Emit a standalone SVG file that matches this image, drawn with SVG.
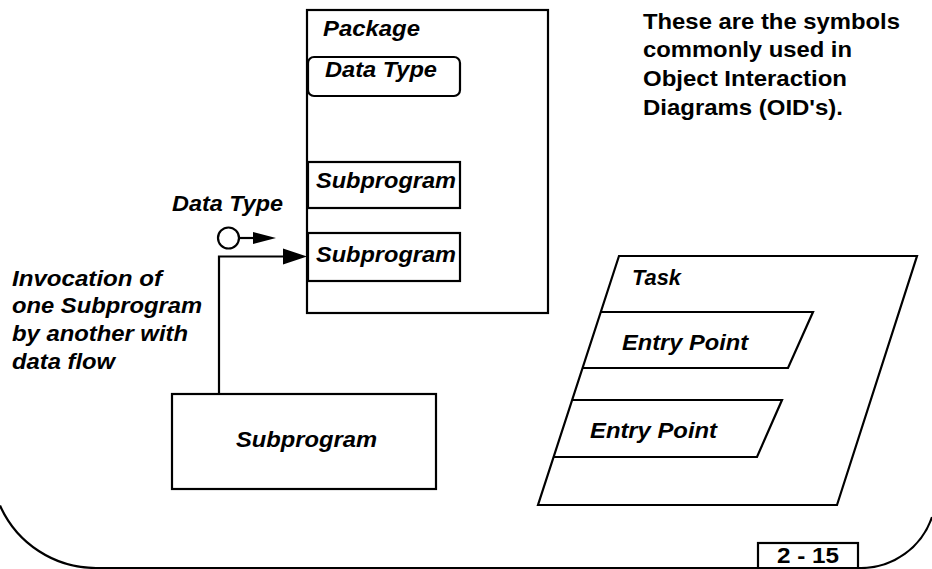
<svg xmlns="http://www.w3.org/2000/svg" width="932" height="569" viewBox="0 0 932 569">
<style>
.s{fill:none;stroke:#000;stroke-width:2.2}
.bi{font-family:"Liberation Sans",Arial,sans-serif;font-weight:bold;font-style:italic;font-size:22px;fill:#000}
.b{font-family:"Liberation Sans",Arial,sans-serif;font-weight:bold;font-size:22px;fill:#000}
</style>
<rect width="932" height="569" fill="#fff"/>
<g id="frame">
<path class="s" d="M0,505.5 A105,105 0 0 0 96,568 H861 A75,75 0 0 0 932,517"/>
</g>
<g id="package">
<rect class="s" x="307" y="10" width="241" height="303"/>
<text class="bi" x="323" y="36" textLength="97" lengthAdjust="spacingAndGlyphs">Package</text>
</g>
<g id="datatype-inner">
<rect class="s" x="308" y="57" width="152" height="39" rx="6"/>
<text class="bi" x="325" y="77" textLength="112" lengthAdjust="spacingAndGlyphs">Data Type</text>
</g>
<g id="subprogram1">
<rect class="s" x="308" y="162" width="152" height="46"/>
<text class="bi" x="316" y="188" textLength="140" lengthAdjust="spacingAndGlyphs">Subprogram</text>
</g>
<g id="subprogram2">
<rect class="s" x="308" y="233" width="152" height="48"/>
<text class="bi" x="316" y="262" textLength="140" lengthAdjust="spacingAndGlyphs">Subprogram</text>
</g>
<g id="subprogram3">
<rect class="s" x="172" y="394" width="264" height="95"/>
<text class="bi" x="236" y="447" textLength="141" lengthAdjust="spacingAndGlyphs">Subprogram</text>
</g>
<g id="dataflow">
<circle class="s" cx="228.5" cy="238" r="10.5"/>
<text class="bi" x="172" y="211" textLength="111" lengthAdjust="spacingAndGlyphs">Data Type</text>
</g>
<g id="connectors">
<path class="s" d="M219,394 V256.5 H286"/>
<polygon points="283,248.5 307,256.5 283,264.5" fill="#000"/>
<path class="s" d="M239,238 H256"/>
<polygon points="253,232 276,238 253,244" fill="#000"/>
</g>
<g id="task">
<polygon class="s" points="619,256 917,256 837,505 538,505"/>
<text class="bi" x="632" y="285" textLength="49" lengthAdjust="spacingAndGlyphs">Task</text>
</g>
<g id="entry1">
<polyline class="s" points="601,312 813,312 788,368 583,368"/>
<text class="bi" x="622" y="350" textLength="126" lengthAdjust="spacingAndGlyphs">Entry Point</text>
</g>
<g id="entry2">
<polyline class="s" points="572,400 782,400 757,457 554,457"/>
<text class="bi" x="590" y="438" textLength="127" lengthAdjust="spacingAndGlyphs">Entry Point</text>
</g>
<g id="invocation-label">
<text class="bi" x="12" y="286" textLength="150" lengthAdjust="spacingAndGlyphs">Invocation of</text>
<text class="bi" x="12" y="313" textLength="190" lengthAdjust="spacingAndGlyphs">one Subprogram</text>
<text class="bi" x="12" y="341" textLength="176" lengthAdjust="spacingAndGlyphs">by another with</text>
<text class="bi" x="12" y="369" textLength="103" lengthAdjust="spacingAndGlyphs">data flow</text>
</g>
<g id="note">
<text class="b" x="643" y="29" textLength="257" lengthAdjust="spacingAndGlyphs">These are the symbols</text>
<text class="b" x="643" y="57" textLength="209" lengthAdjust="spacingAndGlyphs">commonly used in</text>
<text class="b" x="643" y="86" textLength="204" lengthAdjust="spacingAndGlyphs">Object Interaction</text>
<text class="b" x="643" y="115" textLength="200" lengthAdjust="spacingAndGlyphs">Diagrams (OID's).</text>
</g>
<g id="page-number">
<rect class="s" x="758" y="543" width="100" height="30" fill="#fff"/>
<text class="b" x="808" y="563" text-anchor="middle" font-size="21" textLength="62" lengthAdjust="spacingAndGlyphs">2 - 15</text>
</g>
</svg>
